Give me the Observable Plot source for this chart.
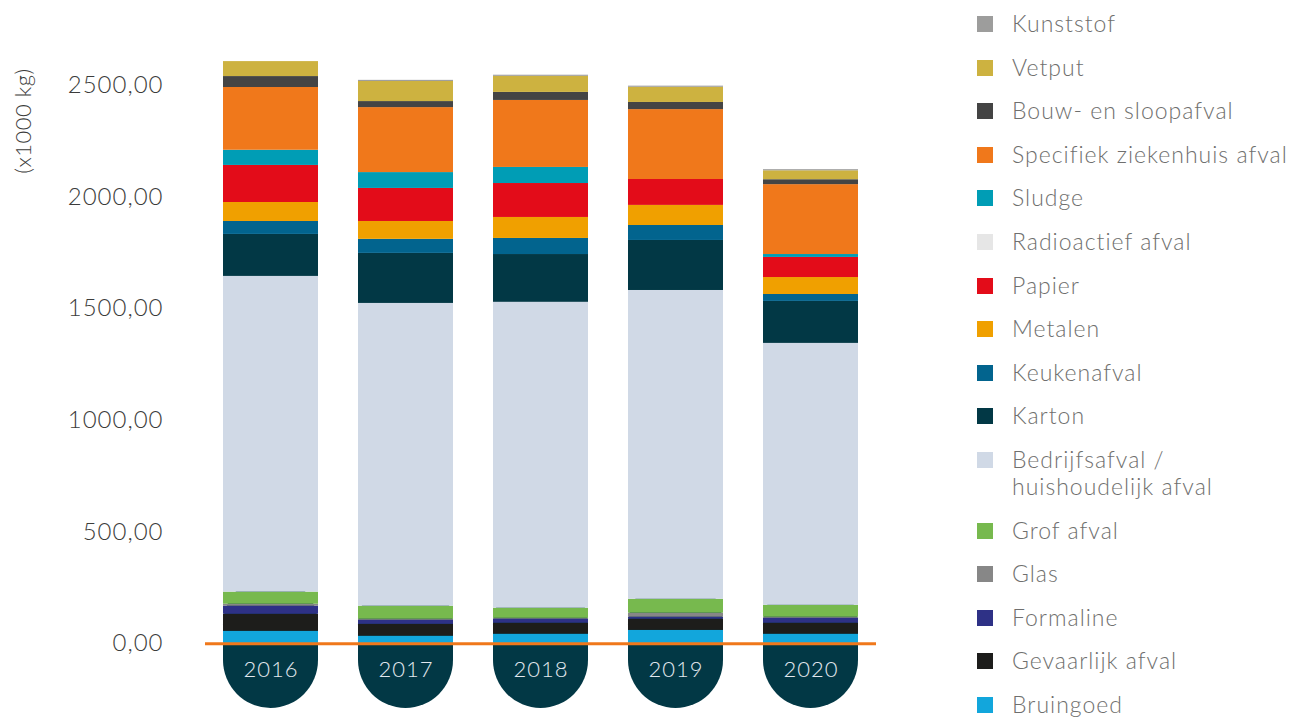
<!DOCTYPE html>
<html>
<head>
<meta charset="utf-8">
<script src="https://cdn.jsdelivr.net/npm/d3@7"></script>
<script src="https://cdn.jsdelivr.net/npm/@observablehq/plot@0.6"></script>
<style>
  html, body { margin: 0; padding: 0; background: #ffffff; }
  #wrap { position: relative; width: 1290px; height: 717px; overflow: hidden; font-family: Lato, "Open Sans", sans-serif; font-weight: 300; }
  #chart { position: absolute; left: 0; top: 0; }
  #ylabel { position: absolute; left: 22px; top: 121px; transform: translate(-50%, -50%) rotate(-90deg); font-size: 22px; letter-spacing: 0.5px; color: #3c3c3b; white-space: nowrap; }
  #legend { position: absolute; left: 977px; top: 10px; }
  .item { display: flex; align-items: flex-start; margin-bottom: 16.6px; }
  .sw { width: 16px; height: 16px; margin-top: 6px; margin-right: 19px; flex: none; }
  .lbl { font-size: 23px; line-height: 27px; letter-spacing: 1px; color: #6f6f6e; white-space: nowrap; }
</style>
</head>
<body>
<div id="wrap">
  <div id="chart"></div>
  <div id="ylabel">(x1000 kg)</div>
  <div id="legend"></div>
</div>
<script>
// ---- data (x1000 kg) ----
const years = ["2016", "2017", "2018", "2019", "2020"];
const yTicks = [0, 500, 1000, 1500, 2000, 2500];

// stack order: bottom -> top
const categories = [
  "Bruingoed", "Gevaarlijk afval", "Formaline", "Glas", "Grof afval",
  "Bedrijfsafval / huishoudelijk afval", "Karton", "Keukenafval", "Metalen",
  "Papier", "Radioactief afval", "Sludge", "Specifiek ziekenhuis afval",
  "Bouw- en sloopafval", "Vetput", "Kunststof"
];
const colors = [
  "#12a6dc", "#1d1d1b", "#2e3186", "#878787", "#77b94e",
  "#d0d9e6", "#023845", "#02648e", "#f0a000",
  "#e30c19", "#e6e6e6", "#009db5", "#f0781b",
  "#444444", "#cdb240", "#9d9d9c"
];

const bruingoed   = [56, 34, 43, 60, 43];
const gevaarlijk  = [76, 53, 49, 50, 49];
const formaline   = [36, 18, 18, 9, 22];
const glas        = [9, 5, 4, 18, 5];
const grof        = [54, 58, 45, 62, 53];
const bedrijfs    = [1414, 1356, 1370, 1383, 1173];
const karton      = [188, 224, 214, 224, 188];
const keuken      = [58, 63, 72, 67, 31];
const metalen     = [85, 80, 94, 90, 76];
const papier      = [166, 148, 152, 116, 90];
const radioactief = [0, 0, 0, 0, 0];
const sludge      = [68, 71, 72, 0, 13];
const specifiek   = [281, 291, 300, 313, 313];
const bouw        = [49, 27, 36, 32, 22];
const vetput      = [67, 90, 72, 68, 40];
const kunststof   = [0, 5, 5, 5, 5];

const series = [bruingoed, gevaarlijk, formaline, glas, grof, bedrijfs, karton,
  keuken, metalen, papier, radioactief, sludge, specifiek, bouw, vetput, kunststof];

const rows = [];
categories.forEach((c, i) => {
  years.forEach((y, j) => rows.push({year: y, category: c, value: series[i][j]}));
});

const fmt = d => d.toFixed(2).replace(".", ",");

const chart = Plot.plot({
  width: 960,
  height: 717,
  marginLeft: 205,
  marginRight: 84,
  marginTop: 18,
  marginBottom: 9,
  style: {fontFamily: "Lato, 'Open Sans', sans-serif", fontWeight: 300, fontSize: "22px", letterSpacing: "1px", color: "#3c3c3b", background: "transparent"},
  x: {domain: years, paddingInner: 0.296, paddingOuter: 0.133, axis: null},
  y: {domain: [-290, 2800], axis: null},
  color: {domain: categories, range: colors},
  marks: [
    Plot.axisY({ticks: yTicks, tickFormat: fmt, tickSize: 0, tickPadding: 42, fontSize: 24, label: null}),
    Plot.barY(years, {x: d => d, y1: 300, y2: -290, fill: "#023845", rx: 48, ry: 48}),
    Plot.barY(rows, {x: "year", y: "value", fill: "category", order: categories}),
    Plot.text(years, {x: d => d, y: -116, text: d => d, fill: "#e2e8ef", fontSize: 22, fontWeight: 300}),
    Plot.ruleY([0], {stroke: "#f0781b", strokeWidth: 3})
  ]
});
document.getElementById("chart").appendChild(chart);

// legend (top -> bottom is reverse of stack)
const legendLabels = {
  "Bedrijfsafval / huishoudelijk afval": "Bedrijfsafval /<br>huishoudelijk afval"
};
const legend = document.getElementById("legend");
for (let i = categories.length - 1; i >= 0; i--) {
  const item = document.createElement("div");
  item.className = "item";
  const sw = document.createElement("span");
  sw.className = "sw";
  sw.style.background = colors[i];
  const lbl = document.createElement("span");
  lbl.className = "lbl";
  lbl.innerHTML = legendLabels[categories[i]] || categories[i];
  item.appendChild(sw);
  item.appendChild(lbl);
  legend.appendChild(item);
}
</script>
</body>
</html>
